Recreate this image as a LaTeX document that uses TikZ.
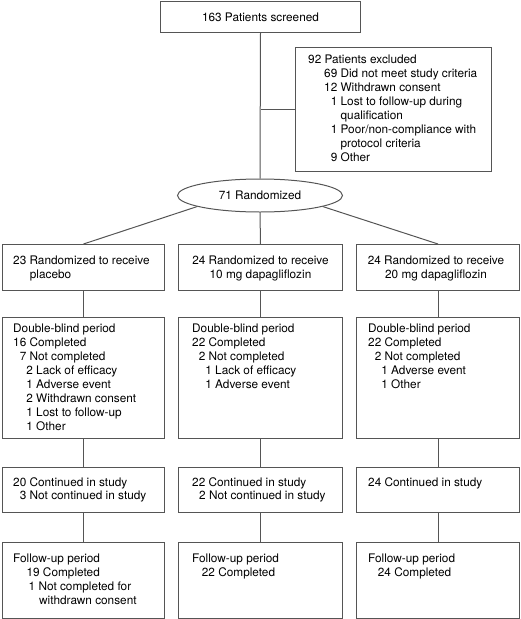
\documentclass[tikz,border=0pt]{standalone}
\usepackage{fontspec}
\setmainfont{TeX Gyre Heros}
\usetikzlibrary{shapes.geometric,calc}
\definecolor{ln}{RGB}{85,85,85}
\begin{document}
\begin{tikzpicture}[x=1pt,y=-1pt,
  every node/.style={font=\fontsize{11.8}{13.9}\selectfont, text=black},
  box/.style={draw=ln, line width=1pt, rectangle, inner sep=0pt, anchor=north west},
  txt/.style={inner sep=0pt, anchor=north west, align=left},
  ctxt/.style={inner sep=0pt, anchor=north, align=center},
  conn/.style={draw=ln, line width=1pt}]
\useasboundingbox (0,0) rectangle (520,619);
% top
\node[box, minimum width=200pt, minimum height=31pt] (top) at (160,1) {163 Patients screened};
\node[ellipse, draw=ln, line width=1pt, minimum width=165pt, minimum height=33pt, inner sep=0pt] (ell) at (260,195.5) {71 Randomized};
% excluded
\node[box, minimum width=196pt, minimum height=124pt] (excl) at (295,47) {};
\node[txt] (excltx) at ($(excl.north west)+(13,8)$) {92 Patients excluded\\
\hspace*{16pt}69 Did not meet study criteria\\
\hspace*{16pt}12 Withdrawn consent\\
\hspace*{22.6pt}1 Lost to follow-up during\\
\hspace*{32.4pt}qualification\\
\hspace*{22.6pt}1 Poor/non-compliance with\\
\hspace*{32.4pt}protocol criteria\\
\hspace*{22.6pt}9 Other};
% row 1
\node[box, minimum width=162pt, minimum height=46pt] (r1) at (2,244) {};
\node[box, minimum width=164pt, minimum height=46pt] (r2) at (178,244) {};
\node[box, minimum width=163pt, minimum height=46pt] (r3) at (356,244) {};
\node[txt] (r1tx) at ($(r1.north west)+(11,12)$) {23 Randomized to receive\\\hspace*{16.7pt}placebo};
\node[ctxt] (r2tx) at ($(r2.north)+(0,12)$) {24 Randomized to receive\\10 mg dapagliflozin};
\node[ctxt] (r3tx) at ($(r3.north)+(-2,12)$) {24 Randomized to receive\\20 mg dapagliflozin};
% double-blind
\node[box, minimum width=162pt, minimum height=121pt] (d1) at (2,317) {};
\node[box, minimum width=164pt, minimum height=121pt] (d2) at (178,317) {};
\node[box, minimum width=163pt, minimum height=121pt] (d3) at (356,317) {};
\node[txt] (d1tx) at ($(d1.north west)+(11,7)$) {Double-blind period\\16 Completed\\
\hspace*{6.6pt}7 Not completed\\
\hspace*{13.2pt}2 Lack of efficacy\\
\hspace*{13.2pt}1 Adverse event\\
\hspace*{13.2pt}2 Withdrawn consent\\
\hspace*{13.2pt}1 Lost to follow-up\\
\hspace*{13.2pt}1 Other};
\node[txt] (d2tx) at ($(d2.north west)+(14,7)$) {Double-blind period\\22 Completed\\
\hspace*{6.6pt}2 Not completed\\
\hspace*{13.2pt}1 Lack of efficacy\\
\hspace*{13.2pt}1 Adverse event};
\node[txt] (d3tx) at ($(d3.north west)+(12,7)$) {Double-blind period\\22 Completed\\
\hspace*{6.6pt}2 Not completed\\
\hspace*{13.2pt}1 Adverse event\\
\hspace*{13.2pt}1 Other};
% continued
\node[box, minimum width=162pt, minimum height=45pt] (c1) at (2,467) {};
\node[box, minimum width=164pt, minimum height=45pt] (c2) at (178,467) {};
\node[box, minimum width=163pt, minimum height=45pt] (c3) at (356,467) {};
\node[txt] (c1tx) at ($(c1.north west)+(11,10)$) {20 Continued in study\\\hspace*{6.7pt}3 Not continued in study};
\node[txt] (c2tx) at ($(c2.north west)+(14,10)$) {22 Continued in study\\\hspace*{7pt}2 Not continued in study};
\node[txt] (c3tx) at ($(c3.north west)+(12,10)$) {24 Continued in study};
% follow-up
\node[box, minimum width=162pt, minimum height=76pt] (f1) at (2,542) {};
\node[box, minimum width=164pt, minimum height=76pt] (f2) at (178,542) {};
\node[box, minimum width=163pt, minimum height=76pt] (f3) at (356,542) {};
\node[txt] (f1tx) at ($(f1.north west)+(11,12)$) {Follow-up period\\
\hspace*{13.4pt}19 Completed\\
\hspace*{15.5pt}1 Not completed for\\
\hspace*{26pt}withdrawn consent};
\node[txt] (f2tx) at ($(f2.north west)+(14,12)$) {Follow-up period\\\hspace*{9.7pt}22 Completed};
\node[txt] (f3tx) at ($(f3.north west)+(12,12)$) {Follow-up period\\\hspace*{9.7pt}24 Completed};
% connectors
\draw[conn] (top.south) -- (ell.north);
\draw[conn] (excl.west) -- (excl.west -| top.south);
\draw[conn] (ell.190) -- (r1.north);
\draw[conn] (ell.south) -- (r2.north);
\draw[conn] (ell.-10) -- (r3.north);
\foreach \i in {1,2,3}{
  \draw[conn] (r\i.south) -- (d\i.north);
  \draw[conn] (d\i.south) -- (c\i.north);
  \draw[conn] (c\i.south) -- (f\i.north);
}
\end{tikzpicture}
\end{document}
